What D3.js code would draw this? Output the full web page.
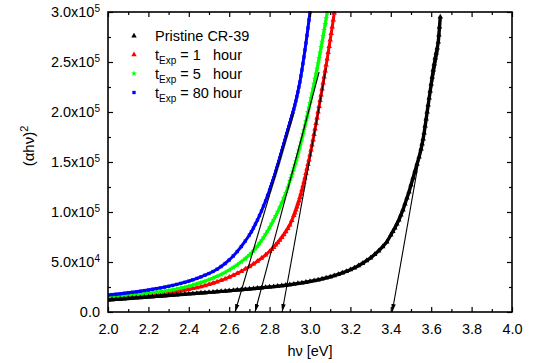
<!DOCTYPE html>
<html>
<head>
<meta charset="utf-8">
<script src="https://cdn.jsdelivr.net/npm/d3@7"></script>
<style>
  body { margin: 0; background: #fff; }
  text { font-family: "Liberation Sans", Arial, sans-serif; }
</style>
</head>
<body>
<svg id="chart" width="534" height="363"></svg>
<script>
// (hv [eV], (alpha h v)^2)
const pristine = [
  [2.00,12000],[2.02,12300],[2.04,12600],[2.06,12900],[2.08,13200],[2.10,13500],[2.12,13800],[2.14,14100],[2.16,14400],[2.18,14700],
  [2.20,15000],[2.22,15300],[2.24,15600],[2.26,15900],[2.28,16200],[2.30,16500],[2.32,16900],[2.34,17200],[2.36,17500],[2.38,17800],
  [2.40,18100],[2.42,18400],[2.44,18700],[2.46,19000],[2.48,19300],[2.50,19600],[2.52,19900],[2.54,20300],[2.56,20600],[2.58,20900],
  [2.60,21300],[2.62,21600],[2.64,22000],[2.66,22300],[2.68,22700],[2.70,23000],[2.72,23400],[2.74,23800],[2.76,24200],[2.78,24600],
  [2.80,25000],[2.82,25400],[2.84,25900],[2.86,26300],[2.88,26800],[2.90,27300],[2.92,27900],[2.94,28500],[2.96,29100],[2.98,29800],
  [3.00,30500],[3.02,31300],[3.04,32100],[3.06,33100],[3.08,34100],[3.10,35200],[3.12,36400],[3.14,37700],[3.16,39100],[3.18,40600],
  [3.20,42300],[3.22,44200],[3.24,46300],[3.26,48700],[3.28,51300],[3.30,54200],[3.32,57500],[3.34,61200],[3.36,65400],[3.38,70000],
  [3.40,77000],[3.41,80500],[3.42,84000],[3.43,88000],[3.44,92000],[3.45,97000],[3.46,102000],[3.47,108000],[3.48,114000],[3.49,120000],
  [3.50,127000],[3.51,134000],[3.52,141000],[3.53,148000],[3.54,155000],[3.55,163000],[3.555,168000],[3.56,173000],[3.565,179000],[3.57,186000],
  [3.575,193000],[3.58,200000],[3.585,207000],[3.59,214000],[3.595,221000],[3.60,228000],[3.605,235000],[3.61,242000],[3.615,248000],[3.62,254000],
  [3.625,259000],[3.63,264000],[3.635,270000],[3.638,277000],[3.641,285000],[3.645,295000]
];

const hour1 = [
  [2.00,14000],[2.02,14300],[2.04,14600],[2.06,14900],[2.08,15200],[2.10,15500],[2.12,15800],[2.14,16100],[2.16,16500],[2.18,16900],
  [2.20,17300],[2.22,17700],[2.24,18100],[2.26,18600],[2.28,19100],[2.30,19600],[2.32,20100],[2.34,20700],[2.36,21300],[2.38,22000],
  [2.40,22700],[2.42,23500],[2.44,24400],[2.46,25300],[2.48,26400],[2.50,27500],[2.52,28800],[2.54,30100],[2.56,31600],[2.58,33200],
  [2.60,34900],[2.62,36700],[2.64,38600],[2.66,40700],[2.68,43000],[2.70,45400],[2.72,48000],[2.74,50800],[2.76,53800],[2.78,57000],
  [2.80,60500],[2.81,62500],[2.82,64700],[2.83,67000],[2.84,69400],[2.85,71900],[2.86,74500],[2.87,77300],[2.88,80300],[2.89,83500],
  [2.90,87000],[2.91,91500],[2.92,96500],[2.925,99200],[2.93,102000],[2.935,105000],[2.94,108000],[2.945,111200],[2.95,114500],[2.955,118200],
  [2.96,122000],[2.965,126000],[2.97,130000],[2.975,134200],[2.98,138500],[2.985,143000],[2.99,147500],[2.995,152200],[3.00,157000],[3.005,162000],
  [3.01,167000],[3.015,172200],[3.02,177500],[3.025,183000],[3.03,188500],[3.035,194200],[3.04,200000],[3.045,205700],[3.05,211500],[3.055,217200],
  [3.06,223000],[3.065,229000],[3.07,235000],[3.075,241000],[3.08,247000],[3.085,253000],[3.09,259500],[3.095,265700],[3.10,272000],[3.105,278500],
  [3.11,285000],[3.115,292000],[3.12,299000]
];

const hour5 = [
  [2.00,15000],[2.02,15300],[2.04,15600],[2.06,15900],[2.08,16200],[2.10,16600],[2.12,17000],[2.14,17400],[2.16,17800],[2.18,18200],
  [2.20,18700],[2.22,19200],[2.24,19700],[2.26,20300],[2.28,20900],[2.30,21600],[2.32,22300],[2.34,23100],[2.36,24000],[2.38,24900],
  [2.40,25900],[2.42,27000],[2.44,28200],[2.46,29500],[2.48,30900],[2.50,32400],[2.52,34000],[2.54,35700],[2.56,37500],[2.58,39600],
  [2.60,42000],[2.62,44500],[2.64,47200],[2.66,50200],[2.68,53500],[2.70,57000],[2.71,59000],[2.72,61200],[2.73,63500],[2.74,66000],
  [2.75,68700],[2.76,71500],[2.77,74500],[2.78,77700],[2.79,81000],[2.80,84500],[2.81,88200],[2.82,92000],[2.83,96000],[2.84,100200],
  [2.85,104600],[2.86,109200],[2.87,114000],[2.88,119000],[2.89,124200],[2.90,131000],[2.905,134000],[2.91,137000],[2.915,140200],[2.92,143500],
  [2.925,147000],[2.93,150500],[2.935,154000],[2.94,157700],[2.945,161500],[2.95,165500],[2.955,169500],[2.96,173500],[2.965,177700],[2.97,182000],
  [2.975,186300],[2.98,190700],[2.985,195200],[2.99,199700],[2.995,204300],[3.00,209000],[3.005,213700],[3.01,218500],[3.015,223300],[3.02,228200],
  [3.025,233200],[3.03,238200],[3.035,243300],[3.04,248500],[3.045,253800],[3.05,259200],[3.055,264700],[3.06,270300],[3.065,276000],[3.07,281800],
  [3.075,287700],[3.08,293700],[3.085,299500]
];

const hour80 = [
  [2.00,17000],[2.02,17400],[2.04,17800],[2.06,18200],[2.08,18700],[2.10,19200],[2.12,19700],[2.14,20200],[2.16,20800],[2.18,21400],
  [2.20,22000],[2.22,22700],[2.24,23400],[2.26,24100],[2.28,24900],[2.30,25700],[2.32,26600],[2.34,27600],[2.36,28600],[2.38,29700],
  [2.40,30900],[2.42,32200],[2.44,33600],[2.46,35100],[2.48,36800],[2.50,38500],[2.52,40500],[2.54,42800],[2.56,45500],[2.58,48500],
  [2.60,52000],[2.62,56000],[2.64,60500],[2.66,65500],[2.68,71000],[2.70,77000],[2.71,80300],[2.72,84000],[2.73,88000],[2.74,92000],
  [2.75,96500],[2.76,101000],[2.77,106000],[2.78,111000],[2.79,116500],[2.80,122000],[2.805,125000],[2.81,128000],[2.815,131000],[2.82,134000],
  [2.825,137000],[2.83,140500],[2.835,144000],[2.84,147000],[2.845,150500],[2.85,154000],[2.855,157500],[2.86,161000],[2.865,164500],[2.87,168000],
  [2.875,171500],[2.88,175000],[2.885,178500],[2.89,182000],[2.895,185500],[2.90,189000],[2.905,192500],[2.91,196000],[2.915,199500],[2.92,203000],
  [2.925,207000],[2.93,211000],[2.935,215500],[2.94,220000],[2.945,225000],[2.95,230000],[2.955,236000],[2.96,242000],[2.965,248500],[2.97,255000],
  [2.975,262000],[2.98,269000],[2.985,276500],[2.99,284000],[2.995,292000],[3.00,300000]
];

// linear fits: x-intercept (band gap) and upper end of the drawn line
const gapEnergies = [3.407, 2.862, 2.728, 2.629];
const fitTops = [[3.635, 262000], [3.080, 244000], [3.045, 240000], [2.921, 200000]];

const legendLabels = [
  ["Pristine CR-39", "", ""],
  ["t", "Exp", " = 1   hour"],
  ["t", "Exp", " = 5   hour"],
  ["t", "Exp", " = 80 hour"]
];

const xTicks = [2.0, 2.2, 2.4, 2.6, 2.8, 3.0, 3.2, 3.4, 3.6, 3.8, 4.0];
const xMinor = [2.1, 2.3, 2.5, 2.7, 2.9, 3.1, 3.3, 3.5, 3.7, 3.9];
const yTicks = [0, 50000, 100000, 150000, 200000, 250000, 300000];
const yMinor = [25000, 75000, 125000, 175000, 225000, 275000];

const svg = d3.select('#chart');
const x = d3.scaleLinear().domain([2.0, 4.0]).range([108, 512]);
const y = d3.scaleLinear().domain([0, 300000]).range([312, 12]);

const defs = svg.append('defs');
defs.append('clipPath').attr('id', 'plot')
    .append('rect').attr('x', 108).attr('y', 11).attr('width', 404).attr('height', 301);
defs.append('marker')
    .attr('id', 'arrow')
    .attr('viewBox', '0 -3 8 6')
    .attr('refX', 8).attr('refY', 0)
    .attr('markerWidth', 8).attr('markerHeight', 6)
    .attr('markerUnits', 'userSpaceOnUse')
    .attr('orient', 'auto')
    .append('path').attr('d', 'M0,-2.2L8,0L0,2.2Z').attr('fill', '#000');

// series, drawn in this order (black ends up on top)
const series = [
  {data: hour1, color: '#ff0000', symbol: d3.symbolTriangle, size: 13, band: 3},
  {data: hour5, color: '#00ff00', symbol: d3.symbolStar, size: 11, band: 3},
  {data: hour80, color: '#0000ff', symbol: d3.symbolSquare, size: 11, band: 3},
  {data: pristine, color: '#000000', symbol: d3.symbolTriangle, size: 13, band: 3.4}
];

const plot = svg.append('g').attr('clip-path', 'url(#plot)');
const line = d3.line().x(d => x(d[0])).y(d => y(d[1]));
series.forEach(function(s) {
  // the scans are dense enough that points merge into a band at low energy
  plot.append('path')
      .datum(s.data)
      .attr('d', line)
      .attr('fill', 'none')
      .attr('stroke', s.color)
      .attr('stroke-width', s.band);
  plot.append('g').selectAll('path')
      .data(s.data)
      .enter()
      .append('path')
      .attr('transform', d => 'translate(' + x(d[0]) + ',' + y(d[1]) + ')')
      .attr('d', d3.symbol().type(s.symbol).size(s.size))
      .attr('fill', s.color);
});

// fit lines with arrow heads down to the energy axis
gapEnergies.forEach(function(g, i) {
  svg.append('line')
      .attr('x1', x(fitTops[i][0])).attr('y1', y(fitTops[i][1]))
      .attr('x2', x(g)).attr('y2', y(0))
      .attr('stroke', '#000')
      .attr('stroke-width', 1.1)
      .attr('marker-end', 'url(#arrow)');
});

// axes (ticks inward, mirrored on top/right)
function styleAxis(g) {
  g.select('.domain').remove();
  g.selectAll('line').attr('stroke', '#000').attr('stroke-width', 1.2);
  g.selectAll('text').attr('font-family', '"Liberation Sans", Arial, sans-serif')
      .attr('font-size', 14.5).attr('fill', '#000');
}

svg.append('g').attr('transform', 'translate(0,312)')
    .call(d3.axisBottom(x).tickValues(xTicks).tickSize(-5).tickPadding(12).tickFormat(d3.format('.1f')))
    .call(styleAxis);
svg.append('g').attr('transform', 'translate(0,312)')
    .call(d3.axisBottom(x).tickValues(xMinor).tickSize(-3).tickFormat(''))
    .call(styleAxis);
svg.append('g').attr('transform', 'translate(0,12)')
    .call(d3.axisTop(x).tickValues(xTicks).tickSize(-5).tickFormat(''))
    .call(styleAxis);
svg.append('g').attr('transform', 'translate(0,12)')
    .call(d3.axisTop(x).tickValues(xMinor).tickSize(-3).tickFormat(''))
    .call(styleAxis);

const yAxis = svg.append('g').attr('transform', 'translate(108,0)')
    .call(d3.axisLeft(y).tickValues(yTicks).tickSize(-5).tickPadding(8))
    .call(styleAxis);
yAxis.selectAll('.tick text').each(function(d) {
  const t = d3.select(this).text(null);
  if (d === 0) { t.text('0.0'); return; }
  const e = Math.floor(Math.log10(d));
  t.append('tspan').text((d / Math.pow(10, e)).toFixed(1) + 'x10');
  t.append('tspan').attr('dy', '-0.5em').attr('font-size', 10).text(e);
});
svg.append('g').attr('transform', 'translate(108,0)')
    .call(d3.axisLeft(y).tickValues(yMinor).tickSize(-3).tickFormat(''))
    .call(styleAxis);
svg.append('g').attr('transform', 'translate(512,0)')
    .call(d3.axisRight(y).tickValues(yTicks).tickSize(-5).tickFormat(''))
    .call(styleAxis);
svg.append('g').attr('transform', 'translate(512,0)')
    .call(d3.axisRight(y).tickValues(yMinor).tickSize(-3).tickFormat(''))
    .call(styleAxis);

// frame
svg.append('rect')
    .attr('x', 108).attr('y', 12).attr('width', 404).attr('height', 300)
    .attr('fill', 'none').attr('stroke', '#000').attr('stroke-width', 1.6);

// axis titles
svg.append('text')
    .attr('x', 310).attr('y', 356)
    .attr('text-anchor', 'middle').attr('font-size', 14.5)
    .text('h\u03bd [eV]');

const yTitle = svg.append('text')
    .attr('transform', 'translate(34,146) rotate(-90)')
    .attr('text-anchor', 'middle').attr('font-size', 15);
yTitle.append('tspan').text('(\u03b1h\u03bd)');
yTitle.append('tspan').attr('dy', '-0.55em').attr('font-size', 11).text('2');

// legend
const legendY = [36, 54.7, 73.5, 92.5];
const legendOrder = [3, 0, 1, 2];
legendLabels.forEach(function(lbl, i) {
  const s = series[legendOrder[i]];
  svg.append('path')
      .attr('transform', 'translate(134,' + legendY[i] + ')')
      .attr('d', d3.symbol().type(s.symbol).size(s.size))
      .attr('fill', s.color);
  const t = svg.append('text')
      .attr('x', 155).attr('y', legendY[i] + 5)
      .attr('font-size', 14.5)
      .style('white-space', 'pre');
  t.append('tspan').text(lbl[0]);
  if (lbl[1]) {
    t.append('tspan').attr('dy', 4).attr('font-size', 10).text(lbl[1]);
    t.append('tspan').attr('dy', -4).text(lbl[2]);
  }
});
</script>
</body>
</html>
